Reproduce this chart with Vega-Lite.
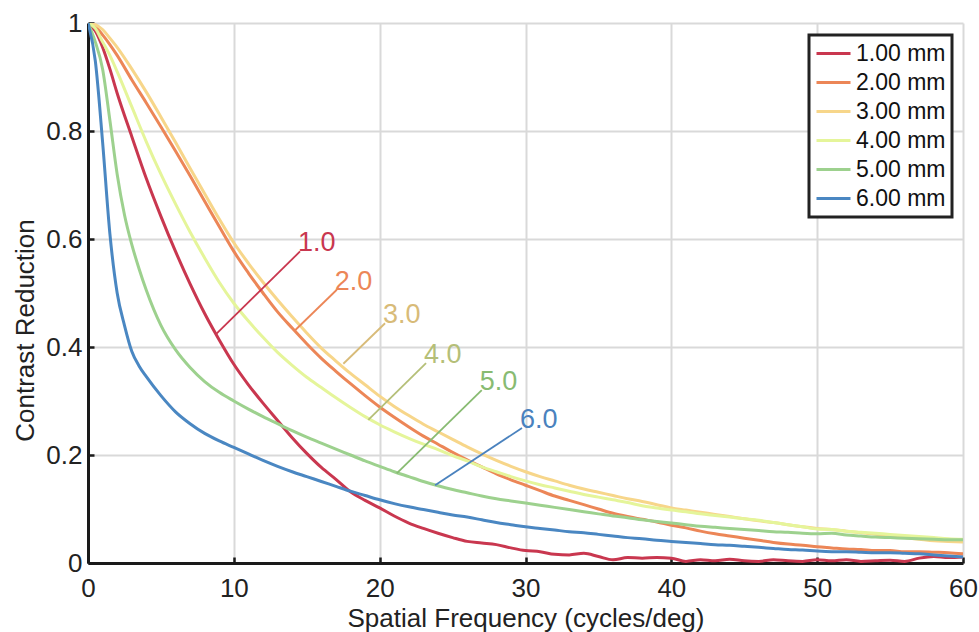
{
  "$schema": "https://vega.github.io/schema/vega-lite/v6.json",
  "width": 875,
  "height": 540,
  "autosize": {"type": "none"},
  "padding": {"left": 88, "top": 23, "right": 16, "bottom": 69},
  "background": "white",
  "config": {
    "font": "Liberation Sans",
    "view": {"stroke": null},
    "axis": {
      "grid": true,
      "gridColor": "#d9d9d9",
      "gridWidth": 2,
      "domainColor": "#1a1a1a",
      "domainWidth": 3,
      "tickColor": "#1a1a1a",
      "tickWidth": 2.5,
      "tickSize": -6,
      "labelFlush": false,
      "labelFontSize": 26,
      "labelColor": "#222",
      "titleFontSize": 26,
      "titleFontWeight": "normal",
      "titleColor": "#222"
    }
  },
  "datasets": {
    "curves": [
      {"s":"1.00 mm","f":0,"c":1},{"s":"1.00 mm","f":0.5,"c":0.985},{"s":"1.00 mm","f":1,"c":0.955},{"s":"1.00 mm","f":1.5,"c":0.915},{"s":"1.00 mm","f":2,"c":0.87},{"s":"1.00 mm","f":3,"c":0.79},{"s":"1.00 mm","f":4,"c":0.712},{"s":"1.00 mm","f":5,"c":0.642},{"s":"1.00 mm","f":6,"c":0.577},{"s":"1.00 mm","f":7,"c":0.517},{"s":"1.00 mm","f":8,"c":0.462},{"s":"1.00 mm","f":9,"c":0.413},{"s":"1.00 mm","f":10,"c":0.368},{"s":"1.00 mm","f":11,"c":0.33},{"s":"1.00 mm","f":12,"c":0.296},{"s":"1.00 mm","f":13,"c":0.264},{"s":"1.00 mm","f":14,"c":0.232},{"s":"1.00 mm","f":15,"c":0.203},{"s":"1.00 mm","f":16,"c":0.177},{"s":"1.00 mm","f":17,"c":0.155},{"s":"1.00 mm","f":18,"c":0.132},{"s":"1.00 mm","f":19,"c":0.116},{"s":"1.00 mm","f":20,"c":0.102},{"s":"1.00 mm","f":21,"c":0.087},{"s":"1.00 mm","f":22,"c":0.074},{"s":"1.00 mm","f":23,"c":0.064},{"s":"1.00 mm","f":24,"c":0.055},{"s":"1.00 mm","f":25,"c":0.047},{"s":"1.00 mm","f":26,"c":0.04},{"s":"1.00 mm","f":27,"c":0.037},{"s":"1.00 mm","f":28,"c":0.034},{"s":"1.00 mm","f":29,"c":0.028},{"s":"1.00 mm","f":30,"c":0.023},{"s":"1.00 mm","f":31,"c":0.021},{"s":"1.00 mm","f":32,"c":0.016},{"s":"1.00 mm","f":33,"c":0.015},{"s":"1.00 mm","f":34,"c":0.018},{"s":"1.00 mm","f":35,"c":0.012},{"s":"1.00 mm","f":36,"c":0.006},{"s":"1.00 mm","f":37,"c":0.01},{"s":"1.00 mm","f":38,"c":0.009},{"s":"1.00 mm","f":39,"c":0.01},{"s":"1.00 mm","f":40,"c":0.009},{"s":"1.00 mm","f":41,"c":0.003},{"s":"1.00 mm","f":42,"c":0.006},{"s":"1.00 mm","f":43,"c":0.004},{"s":"1.00 mm","f":44,"c":0.007},{"s":"1.00 mm","f":45,"c":0.004},{"s":"1.00 mm","f":46,"c":0.003},{"s":"1.00 mm","f":47,"c":0.006},{"s":"1.00 mm","f":48,"c":0.004},{"s":"1.00 mm","f":49,"c":0.003},{"s":"1.00 mm","f":50,"c":0.006},{"s":"1.00 mm","f":51,"c":0.004},{"s":"1.00 mm","f":52,"c":0.006},{"s":"1.00 mm","f":53,"c":0.003},{"s":"1.00 mm","f":54,"c":0.004},{"s":"1.00 mm","f":55,"c":0.005},{"s":"1.00 mm","f":56,"c":0.003},{"s":"1.00 mm","f":57,"c":0.009},{"s":"1.00 mm","f":58,"c":0.012},{"s":"1.00 mm","f":59,"c":0.01},{"s":"1.00 mm","f":60,"c":0.011},

      {"s":"2.00 mm","f":0,"c":1},{"s":"2.00 mm","f":0.5,"c":0.993},{"s":"2.00 mm","f":1,"c":0.978},{"s":"2.00 mm","f":1.5,"c":0.96},{"s":"2.00 mm","f":2,"c":0.94},{"s":"2.00 mm","f":3,"c":0.895},{"s":"2.00 mm","f":4,"c":0.852},{"s":"2.00 mm","f":5,"c":0.808},{"s":"2.00 mm","f":6,"c":0.763},{"s":"2.00 mm","f":7,"c":0.717},{"s":"2.00 mm","f":8,"c":0.67},{"s":"2.00 mm","f":9,"c":0.623},{"s":"2.00 mm","f":10,"c":0.577},{"s":"2.00 mm","f":11,"c":0.537},{"s":"2.00 mm","f":12,"c":0.5},{"s":"2.00 mm","f":13,"c":0.465},{"s":"2.00 mm","f":14,"c":0.435},{"s":"2.00 mm","f":15,"c":0.406},{"s":"2.00 mm","f":16,"c":0.379},{"s":"2.00 mm","f":17,"c":0.355},{"s":"2.00 mm","f":18,"c":0.332},{"s":"2.00 mm","f":19,"c":0.31},{"s":"2.00 mm","f":20,"c":0.289},{"s":"2.00 mm","f":21,"c":0.27},{"s":"2.00 mm","f":22,"c":0.252},{"s":"2.00 mm","f":23,"c":0.235},{"s":"2.00 mm","f":24,"c":0.22},{"s":"2.00 mm","f":25,"c":0.205},{"s":"2.00 mm","f":26,"c":0.191},{"s":"2.00 mm","f":27,"c":0.178},{"s":"2.00 mm","f":28,"c":0.165},{"s":"2.00 mm","f":29,"c":0.154},{"s":"2.00 mm","f":30,"c":0.144},{"s":"2.00 mm","f":31,"c":0.134},{"s":"2.00 mm","f":32,"c":0.124},{"s":"2.00 mm","f":33,"c":0.116},{"s":"2.00 mm","f":34,"c":0.108},{"s":"2.00 mm","f":35,"c":0.1},{"s":"2.00 mm","f":36,"c":0.092},{"s":"2.00 mm","f":37,"c":0.086},{"s":"2.00 mm","f":38,"c":0.081},{"s":"2.00 mm","f":39,"c":0.076},{"s":"2.00 mm","f":40,"c":0.07},{"s":"2.00 mm","f":41,"c":0.065},{"s":"2.00 mm","f":42,"c":0.059},{"s":"2.00 mm","f":43,"c":0.054},{"s":"2.00 mm","f":44,"c":0.05},{"s":"2.00 mm","f":45,"c":0.046},{"s":"2.00 mm","f":46,"c":0.042},{"s":"2.00 mm","f":47,"c":0.038},{"s":"2.00 mm","f":48,"c":0.035},{"s":"2.00 mm","f":49,"c":0.033},{"s":"2.00 mm","f":50,"c":0.03},{"s":"2.00 mm","f":51,"c":0.028},{"s":"2.00 mm","f":52,"c":0.026},{"s":"2.00 mm","f":53,"c":0.025},{"s":"2.00 mm","f":54,"c":0.023},{"s":"2.00 mm","f":55,"c":0.023},{"s":"2.00 mm","f":56,"c":0.021},{"s":"2.00 mm","f":57,"c":0.021},{"s":"2.00 mm","f":58,"c":0.02},{"s":"2.00 mm","f":59,"c":0.019},{"s":"2.00 mm","f":60,"c":0.017},

      {"s":"3.00 mm","f":0,"c":1},{"s":"3.00 mm","f":0.5,"c":0.997},{"s":"3.00 mm","f":1,"c":0.988},{"s":"3.00 mm","f":1.5,"c":0.972},{"s":"3.00 mm","f":2,"c":0.955},{"s":"3.00 mm","f":3,"c":0.915},{"s":"3.00 mm","f":4,"c":0.872},{"s":"3.00 mm","f":5,"c":0.826},{"s":"3.00 mm","f":6,"c":0.779},{"s":"3.00 mm","f":7,"c":0.731},{"s":"3.00 mm","f":8,"c":0.684},{"s":"3.00 mm","f":9,"c":0.637},{"s":"3.00 mm","f":10,"c":0.593},{"s":"3.00 mm","f":11,"c":0.555},{"s":"3.00 mm","f":12,"c":0.52},{"s":"3.00 mm","f":13,"c":0.487},{"s":"3.00 mm","f":14,"c":0.456},{"s":"3.00 mm","f":15,"c":0.426},{"s":"3.00 mm","f":16,"c":0.398},{"s":"3.00 mm","f":17,"c":0.374},{"s":"3.00 mm","f":18,"c":0.351},{"s":"3.00 mm","f":19,"c":0.33},{"s":"3.00 mm","f":20,"c":0.309},{"s":"3.00 mm","f":21,"c":0.29},{"s":"3.00 mm","f":22,"c":0.273},{"s":"3.00 mm","f":23,"c":0.257},{"s":"3.00 mm","f":24,"c":0.243},{"s":"3.00 mm","f":25,"c":0.229},{"s":"3.00 mm","f":26,"c":0.215},{"s":"3.00 mm","f":27,"c":0.202},{"s":"3.00 mm","f":28,"c":0.19},{"s":"3.00 mm","f":29,"c":0.179},{"s":"3.00 mm","f":30,"c":0.169},{"s":"3.00 mm","f":31,"c":0.16},{"s":"3.00 mm","f":32,"c":0.152},{"s":"3.00 mm","f":33,"c":0.144},{"s":"3.00 mm","f":34,"c":0.137},{"s":"3.00 mm","f":35,"c":0.131},{"s":"3.00 mm","f":36,"c":0.125},{"s":"3.00 mm","f":37,"c":0.119},{"s":"3.00 mm","f":38,"c":0.114},{"s":"3.00 mm","f":39,"c":0.108},{"s":"3.00 mm","f":40,"c":0.102},{"s":"3.00 mm","f":41,"c":0.098},{"s":"3.00 mm","f":42,"c":0.094},{"s":"3.00 mm","f":43,"c":0.09},{"s":"3.00 mm","f":44,"c":0.086},{"s":"3.00 mm","f":45,"c":0.082},{"s":"3.00 mm","f":46,"c":0.078},{"s":"3.00 mm","f":47,"c":0.075},{"s":"3.00 mm","f":48,"c":0.071},{"s":"3.00 mm","f":49,"c":0.067},{"s":"3.00 mm","f":50,"c":0.064},{"s":"3.00 mm","f":51,"c":0.062},{"s":"3.00 mm","f":52,"c":0.059},{"s":"3.00 mm","f":53,"c":0.056},{"s":"3.00 mm","f":54,"c":0.053},{"s":"3.00 mm","f":55,"c":0.05},{"s":"3.00 mm","f":56,"c":0.047},{"s":"3.00 mm","f":57,"c":0.044},{"s":"3.00 mm","f":58,"c":0.041},{"s":"3.00 mm","f":59,"c":0.04},{"s":"3.00 mm","f":60,"c":0.039},

      {"s":"4.00 mm","f":0,"c":1},{"s":"4.00 mm","f":0.5,"c":0.99},{"s":"4.00 mm","f":1,"c":0.965},{"s":"4.00 mm","f":1.5,"c":0.94},{"s":"4.00 mm","f":2,"c":0.91},{"s":"4.00 mm","f":3,"c":0.845},{"s":"4.00 mm","f":4,"c":0.78},{"s":"4.00 mm","f":5,"c":0.72},{"s":"4.00 mm","f":6,"c":0.665},{"s":"4.00 mm","f":7,"c":0.613},{"s":"4.00 mm","f":8,"c":0.565},{"s":"4.00 mm","f":9,"c":0.52},{"s":"4.00 mm","f":10,"c":0.481},{"s":"4.00 mm","f":11,"c":0.448},{"s":"4.00 mm","f":12,"c":0.418},{"s":"4.00 mm","f":13,"c":0.39},{"s":"4.00 mm","f":14,"c":0.366},{"s":"4.00 mm","f":15,"c":0.344},{"s":"4.00 mm","f":16,"c":0.325},{"s":"4.00 mm","f":17,"c":0.306},{"s":"4.00 mm","f":18,"c":0.288},{"s":"4.00 mm","f":19,"c":0.271},{"s":"4.00 mm","f":20,"c":0.256},{"s":"4.00 mm","f":21,"c":0.243},{"s":"4.00 mm","f":22,"c":0.231},{"s":"4.00 mm","f":23,"c":0.22},{"s":"4.00 mm","f":24,"c":0.21},{"s":"4.00 mm","f":25,"c":0.199},{"s":"4.00 mm","f":26,"c":0.189},{"s":"4.00 mm","f":27,"c":0.178},{"s":"4.00 mm","f":28,"c":0.169},{"s":"4.00 mm","f":29,"c":0.16},{"s":"4.00 mm","f":30,"c":0.152},{"s":"4.00 mm","f":31,"c":0.145},{"s":"4.00 mm","f":32,"c":0.139},{"s":"4.00 mm","f":33,"c":0.133},{"s":"4.00 mm","f":34,"c":0.127},{"s":"4.00 mm","f":35,"c":0.122},{"s":"4.00 mm","f":36,"c":0.117},{"s":"4.00 mm","f":37,"c":0.112},{"s":"4.00 mm","f":38,"c":0.106},{"s":"4.00 mm","f":39,"c":0.102},{"s":"4.00 mm","f":40,"c":0.098},{"s":"4.00 mm","f":41,"c":0.095},{"s":"4.00 mm","f":42,"c":0.091},{"s":"4.00 mm","f":43,"c":0.088},{"s":"4.00 mm","f":44,"c":0.085},{"s":"4.00 mm","f":45,"c":0.082},{"s":"4.00 mm","f":46,"c":0.079},{"s":"4.00 mm","f":47,"c":0.075},{"s":"4.00 mm","f":48,"c":0.071},{"s":"4.00 mm","f":49,"c":0.067},{"s":"4.00 mm","f":50,"c":0.063},{"s":"4.00 mm","f":51,"c":0.062},{"s":"4.00 mm","f":52,"c":0.059},{"s":"4.00 mm","f":53,"c":0.057},{"s":"4.00 mm","f":54,"c":0.055},{"s":"4.00 mm","f":55,"c":0.053},{"s":"4.00 mm","f":56,"c":0.051},{"s":"4.00 mm","f":57,"c":0.049},{"s":"4.00 mm","f":58,"c":0.047},{"s":"4.00 mm","f":59,"c":0.045},{"s":"4.00 mm","f":60,"c":0.044},

      {"s":"5.00 mm","f":0,"c":1},{"s":"5.00 mm","f":0.5,"c":0.965},{"s":"5.00 mm","f":1,"c":0.915},{"s":"5.00 mm","f":1.5,"c":0.82},{"s":"5.00 mm","f":2,"c":0.72},{"s":"5.00 mm","f":2.5,"c":0.645},{"s":"5.00 mm","f":3,"c":0.59},{"s":"5.00 mm","f":3.5,"c":0.545},{"s":"5.00 mm","f":4,"c":0.505},{"s":"5.00 mm","f":5,"c":0.44},{"s":"5.00 mm","f":6,"c":0.395},{"s":"5.00 mm","f":7,"c":0.362},{"s":"5.00 mm","f":8,"c":0.336},{"s":"5.00 mm","f":9,"c":0.316},{"s":"5.00 mm","f":10,"c":0.3},{"s":"5.00 mm","f":11,"c":0.285},{"s":"5.00 mm","f":12,"c":0.271},{"s":"5.00 mm","f":13,"c":0.258},{"s":"5.00 mm","f":14,"c":0.245},{"s":"5.00 mm","f":15,"c":0.233},{"s":"5.00 mm","f":16,"c":0.222},{"s":"5.00 mm","f":17,"c":0.211},{"s":"5.00 mm","f":18,"c":0.2},{"s":"5.00 mm","f":19,"c":0.189},{"s":"5.00 mm","f":20,"c":0.179},{"s":"5.00 mm","f":21,"c":0.169},{"s":"5.00 mm","f":22,"c":0.16},{"s":"5.00 mm","f":23,"c":0.151},{"s":"5.00 mm","f":24,"c":0.143},{"s":"5.00 mm","f":25,"c":0.136},{"s":"5.00 mm","f":26,"c":0.13},{"s":"5.00 mm","f":27,"c":0.124},{"s":"5.00 mm","f":28,"c":0.119},{"s":"5.00 mm","f":29,"c":0.115},{"s":"5.00 mm","f":30,"c":0.111},{"s":"5.00 mm","f":31,"c":0.107},{"s":"5.00 mm","f":32,"c":0.103},{"s":"5.00 mm","f":33,"c":0.099},{"s":"5.00 mm","f":34,"c":0.095},{"s":"5.00 mm","f":35,"c":0.091},{"s":"5.00 mm","f":36,"c":0.087},{"s":"5.00 mm","f":37,"c":0.084},{"s":"5.00 mm","f":38,"c":0.08},{"s":"5.00 mm","f":39,"c":0.077},{"s":"5.00 mm","f":40,"c":0.074},{"s":"5.00 mm","f":41,"c":0.071},{"s":"5.00 mm","f":42,"c":0.068},{"s":"5.00 mm","f":43,"c":0.066},{"s":"5.00 mm","f":44,"c":0.064},{"s":"5.00 mm","f":45,"c":0.062},{"s":"5.00 mm","f":46,"c":0.06},{"s":"5.00 mm","f":47,"c":0.058},{"s":"5.00 mm","f":48,"c":0.057},{"s":"5.00 mm","f":49,"c":0.055},{"s":"5.00 mm","f":50,"c":0.054},{"s":"5.00 mm","f":51,"c":0.055},{"s":"5.00 mm","f":52,"c":0.052},{"s":"5.00 mm","f":53,"c":0.05},{"s":"5.00 mm","f":54,"c":0.048},{"s":"5.00 mm","f":55,"c":0.047},{"s":"5.00 mm","f":56,"c":0.046},{"s":"5.00 mm","f":57,"c":0.045},{"s":"5.00 mm","f":58,"c":0.044},{"s":"5.00 mm","f":59,"c":0.043},{"s":"5.00 mm","f":60,"c":0.043},

      {"s":"6.00 mm","f":0,"c":1},{"s":"6.00 mm","f":0.5,"c":0.93},{"s":"6.00 mm","f":1,"c":0.78},{"s":"6.00 mm","f":1.5,"c":0.61},{"s":"6.00 mm","f":2,"c":0.5},{"s":"6.00 mm","f":2.5,"c":0.44},{"s":"6.00 mm","f":3,"c":0.392},{"s":"6.00 mm","f":3.5,"c":0.365},{"s":"6.00 mm","f":4,"c":0.345},{"s":"6.00 mm","f":5,"c":0.31},{"s":"6.00 mm","f":6,"c":0.28},{"s":"6.00 mm","f":7,"c":0.258},{"s":"6.00 mm","f":8,"c":0.24},{"s":"6.00 mm","f":9,"c":0.226},{"s":"6.00 mm","f":10,"c":0.214},{"s":"6.00 mm","f":11,"c":0.202},{"s":"6.00 mm","f":12,"c":0.19},{"s":"6.00 mm","f":13,"c":0.179},{"s":"6.00 mm","f":14,"c":0.169},{"s":"6.00 mm","f":15,"c":0.16},{"s":"6.00 mm","f":16,"c":0.151},{"s":"6.00 mm","f":17,"c":0.142},{"s":"6.00 mm","f":18,"c":0.133},{"s":"6.00 mm","f":19,"c":0.125},{"s":"6.00 mm","f":20,"c":0.117},{"s":"6.00 mm","f":21,"c":0.11},{"s":"6.00 mm","f":22,"c":0.104},{"s":"6.00 mm","f":23,"c":0.099},{"s":"6.00 mm","f":24,"c":0.094},{"s":"6.00 mm","f":25,"c":0.089},{"s":"6.00 mm","f":26,"c":0.085},{"s":"6.00 mm","f":27,"c":0.08},{"s":"6.00 mm","f":28,"c":0.075},{"s":"6.00 mm","f":29,"c":0.071},{"s":"6.00 mm","f":30,"c":0.067},{"s":"6.00 mm","f":31,"c":0.064},{"s":"6.00 mm","f":32,"c":0.061},{"s":"6.00 mm","f":33,"c":0.058},{"s":"6.00 mm","f":34,"c":0.056},{"s":"6.00 mm","f":35,"c":0.053},{"s":"6.00 mm","f":36,"c":0.05},{"s":"6.00 mm","f":37,"c":0.047},{"s":"6.00 mm","f":38,"c":0.045},{"s":"6.00 mm","f":39,"c":0.042},{"s":"6.00 mm","f":40,"c":0.04},{"s":"6.00 mm","f":41,"c":0.038},{"s":"6.00 mm","f":42,"c":0.036},{"s":"6.00 mm","f":43,"c":0.034},{"s":"6.00 mm","f":44,"c":0.033},{"s":"6.00 mm","f":45,"c":0.031},{"s":"6.00 mm","f":46,"c":0.029},{"s":"6.00 mm","f":47,"c":0.027},{"s":"6.00 mm","f":48,"c":0.025},{"s":"6.00 mm","f":49,"c":0.024},{"s":"6.00 mm","f":50,"c":0.022},{"s":"6.00 mm","f":51,"c":0.021},{"s":"6.00 mm","f":52,"c":0.021},{"s":"6.00 mm","f":53,"c":0.02},{"s":"6.00 mm","f":54,"c":0.019},{"s":"6.00 mm","f":55,"c":0.019},{"s":"6.00 mm","f":56,"c":0.018},{"s":"6.00 mm","f":57,"c":0.017},{"s":"6.00 mm","f":58,"c":0.015},{"s":"6.00 mm","f":59,"c":0.013},{"s":"6.00 mm","f":60,"c":0.011}
    ],
    "ann": [
      {"k":"1.0","x1":8.78,"y1":0.424,"x2":14.54,"y2":0.577},
      {"k":"2.0","x1":14.2,"y1":0.431,"x2":17.06,"y2":0.506},
      {"k":"3.0","x1":17.51,"y1":0.369,"x2":20.37,"y2":0.444},
      {"k":"4.0","x1":19.22,"y1":0.265,"x2":23.18,"y2":0.37},
      {"k":"5.0","x1":21.17,"y1":0.166,"x2":27.0,"y2":0.32},
      {"k":"6.0","x1":23.8,"y1":0.144,"x2":29.76,"y2":0.25}
    ]
  },
  "resolve": {"scale": {"color": "independent"}},
  "layer": [
    {
      "data": {"name": "curves"},
      "mark": {"type": "line", "strokeWidth": 3, "interpolate": "monotone", "clip": true},
      "encoding": {
        "x": {
          "field": "f", "type": "quantitative",
          "scale": {"domain": [0, 60], "nice": false},
          "axis": {
            "values": [0, 10, 20, 30, 40, 50, 60],
            "title": "Spatial Frequency (cycles/deg)",
            "labelPadding": 18,
            "labelBaseline": "top",
            "titleY": 63,
            "titleBaseline": "alphabetic"
          }
        },
        "y": {
          "field": "c", "type": "quantitative",
          "scale": {"domain": [0, 1], "nice": false},
          "axis": {
            "values": [0, 0.2, 0.4, 0.6, 0.8, 1],
            "format": "~g",
            "title": "Contrast Reduction",
            "labelPadding": 12,
            "titleX": -55,
            "titleY": 307,
            "titleBaseline": "alphabetic"
          }
        },
        "color": {
          "field": "s", "type": "nominal",
          "scale": {
            "domain": ["1.00 mm", "2.00 mm", "3.00 mm", "4.00 mm", "5.00 mm", "6.00 mm"],
            "range": ["#c9374f", "#ec8657", "#f7d68a", "#e5f59a", "#9dd18e", "#4a87c2"]
          },
          "legend": {
            "title": null,
            "orient": "none",
            "legendX": 721,
            "legendY": 12,
            "padding": 6,
            "fillColor": "white",
            "strokeColor": "#222",
            "cornerRadius": 0,
            "symbolType": "stroke",
            "symbolStrokeWidth": 3,
            "symbolSize": 1156,
            "clipHeight": 25,
            "labelFontSize": 23,
            "labelColor": "#111",
            "labelOffset": 4,
            "rowPadding": 4,
            "encode": {"legend": {"update": {"strokeWidth": {"value": 3}}}}
          }
        }
      }
    },
    {
      "data": {"name": "ann"},
      "mark": {"type": "rule", "strokeWidth": 1.8},
      "encoding": {
        "x": {"field": "x1", "type": "quantitative"},
        "y": {"field": "y1", "type": "quantitative"},
        "x2": {"field": "x2"},
        "y2": {"field": "y2"},
        "color": {
          "field": "k", "type": "nominal",
          "scale": {
            "domain": ["1.0", "2.0", "3.0", "4.0", "5.0", "6.0"],
            "range": ["#c9374f", "#ec8657", "#d8bb78", "#b5bf78", "#88bb72", "#4a82be"]
          },
          "legend": null
        }
      }
    },
    {
      "data": {"name": "ann"},
      "mark": {"type": "text", "align": "left", "baseline": "alphabetic", "fontSize": 27, "dx": -2},
      "encoding": {
        "x": {"field": "x2", "type": "quantitative"},
        "y": {"field": "y2", "type": "quantitative"},
        "text": {"field": "k"},
        "color": {
          "field": "k", "type": "nominal",
          "scale": {
            "domain": ["1.0", "2.0", "3.0", "4.0", "5.0", "6.0"],
            "range": ["#c9374f", "#ec8657", "#d8bb78", "#b5bf78", "#88bb72", "#4a82be"]
          },
          "legend": null
        }
      }
    }
  ]
}
